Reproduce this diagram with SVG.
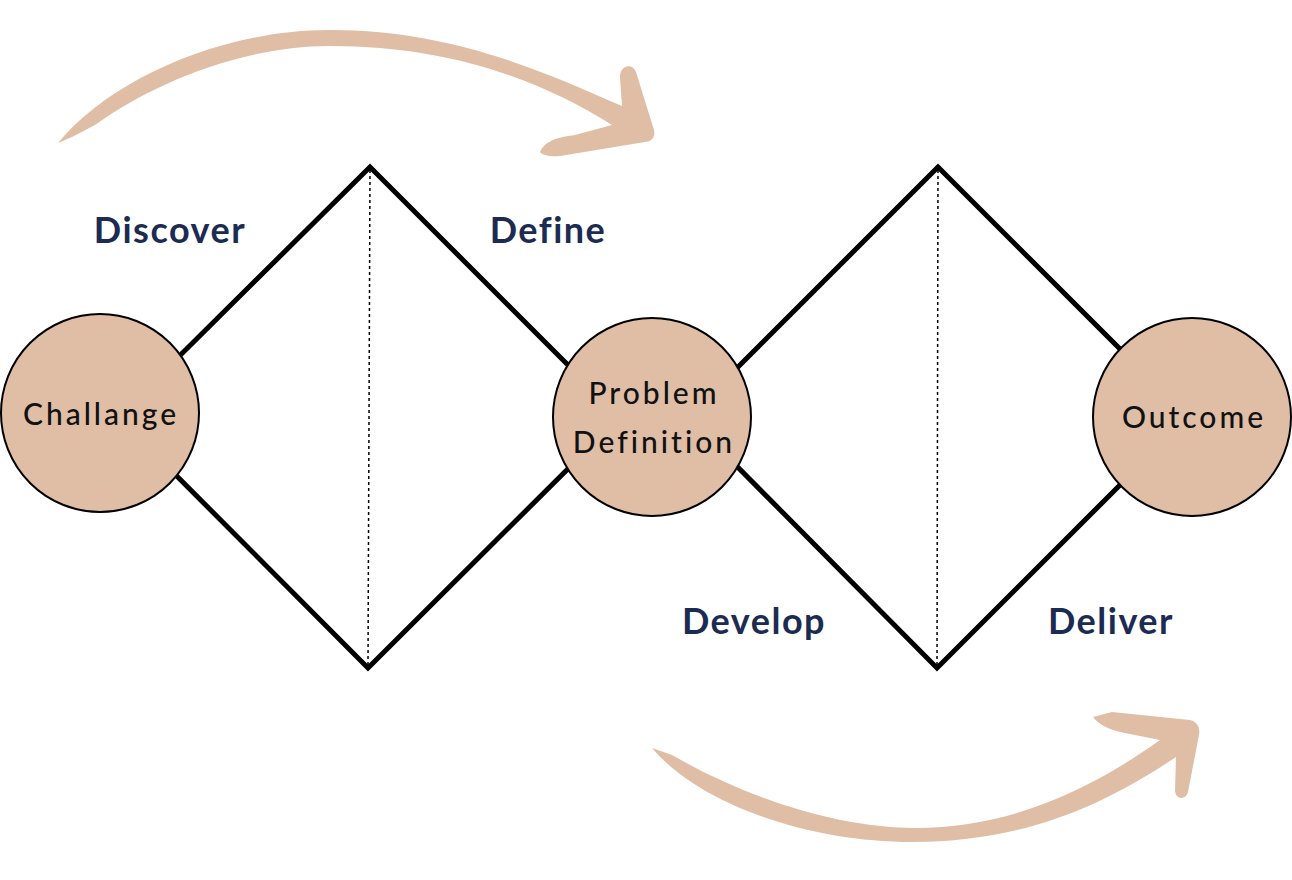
<svg xmlns="http://www.w3.org/2000/svg" width="1292" height="880" viewBox="0 0 1292 880">
<style>
.ln{fill:none;stroke:#000;stroke-width:5;stroke-linejoin:miter}
.dot{fill:none;stroke:#000;stroke-width:1.5;stroke-dasharray:3 3}
.node{fill:#dfbea5;stroke:#000;stroke-width:2}
.lbl{font-family:Lato,"Liberation Sans",sans-serif;font-size:30px;font-weight:500;letter-spacing:3px;fill:#111;text-anchor:middle}
.ph{font-family:Lato,"Liberation Sans",sans-serif;font-size:36px;font-weight:700;letter-spacing:1.5px;fill:#1c2b52;text-anchor:middle}
.brush{fill:#dfbea5}
</style>
<rect width="1292" height="880" fill="#fff"/>
<g id="connectors">
<path class="ln" d="M118,417 L370,167 L620,417 L368,668 Z"/>
<path class="ln" d="M688,417 L938,167 L1188,417 L937,668 Z"/>
<path class="dot" d="M370,170 L368,665"/>
<path class="dot" d="M938,170 L937,665"/>
</g>
<g id="arrow-top">
<path class="brush" d="M58,143 C110,80 220,30 330,30 C450,30 540,70 622,106 L620,78 C619,66 632,62 636,72 L654,130 C656,138 650,142 645,142 L560,156 C550,157 542,155 540,152 C545,140 560,137 575,135 L612,125 C540,80 450,46 330,46 C240,46 150,85 95,125 L72,137 Z"/>
</g>
<g id="arrow-bottom">
<path class="brush" d="M652,748 L672,755 C750,800 840,828 915,828 C1010,828 1090,790 1160,740 L1130,734 C1112,731 1100,726 1093,717 L1112,712 L1190,720 C1198,722 1200,728 1199,735 L1188,792 C1186,800 1176,800 1175,791 L1176,757 C1100,808 1020,842 912,842 C810,842 700,805 652,748 Z"/>
</g>
<g id="challange">
<circle class="node" cx="100" cy="413" r="99"/>
<text class="lbl" x="101" y="425">Challange</text>
</g>
<g id="problem-definition">
<circle class="node" cx="652" cy="417" r="99"/>
<text class="lbl" x="654" y="404">Problem</text>
<text class="lbl" x="654" y="453">Definition</text>
</g>
<g id="outcome">
<circle class="node" cx="1192" cy="417" r="99"/>
<text class="lbl" x="1194" y="428">Outcome</text>
</g>
<g id="labels">
<text class="ph" x="170" y="243">Discover</text>
<text class="ph" x="548" y="243">Define</text>
<text class="ph" x="754" y="634">Develop</text>
<text class="ph" x="1111" y="634">Deliver</text>
</g>
</svg>
